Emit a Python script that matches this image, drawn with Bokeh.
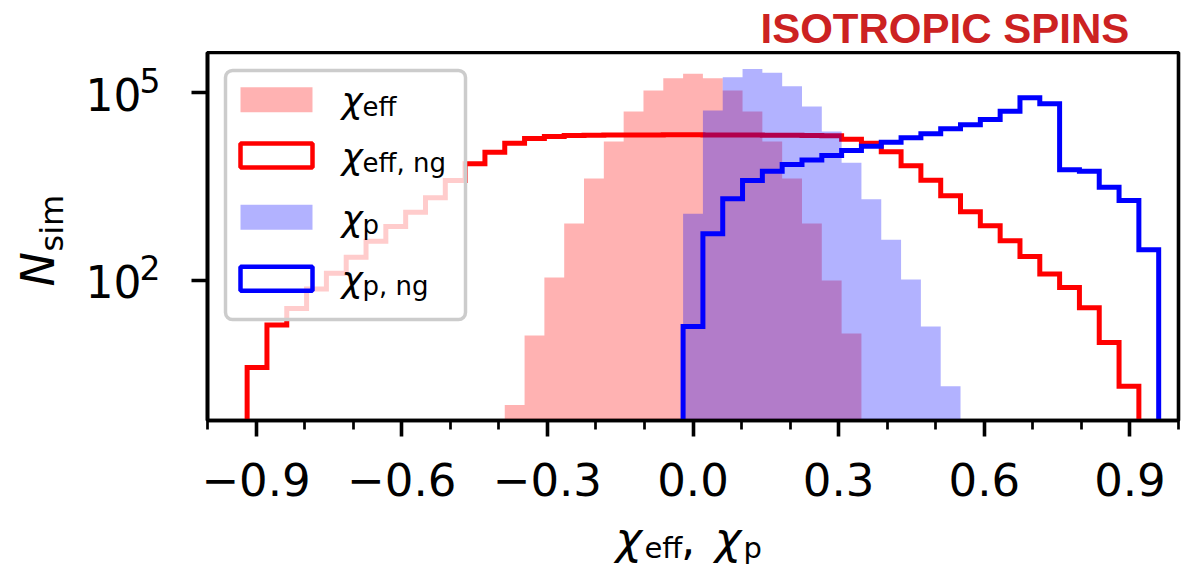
import numpy as np
from bokeh.plotting import figure
from bokeh.layouts import column, row
from bokeh.models import (FixedTicker, CustomJSTickFormatter,
                          Label, BoxAnnotation, Range1d)
from bokeh.embed import file_html
from bokeh.resources import INLINE

# ------------------------------------------------------------------ data
X_MIN, X_MAX, N_BINS = -1.0, 1.0, 49

chi_eff_first_bin = 15
chi_eff_counts = [1, 13, 110, 800, 4200, 16400, 49700, 107600, 169000, 199000,
                  169000, 107600, 49700, 16400, 4200, 800, 98, 14]

chi_eff_ng_first_bin = 2
chi_eff_ng_counts = [4, 19, 35, 72, 128, 232, 418, 718, 1216, 2065, 3908, 7228,
                     11090, 15450, 18370, 19770,
                     20600, 20800, 20900, 21000, 21000, 21100, 21100, 21000,
                     21000, 20900, 20800, 20700, 20500,
                     20280, 17950, 15490, 11240, 6710, 3963, 2223, 1233, 736,
                     424, 238, 125, 76, 36, 10, 2]

chi_p_first_bin = 24
chi_p_counts = [1150, 51500, 175700, 239000, 206600, 126100, 59700, 23800,
                7500, 1960, 440, 102, 18, 2]

chi_p_ng_first_bin = 24
chi_p_ng_counts = [18, 548, 1990, 3910, 5510, 7050, 8320, 9820, 11800, 13830,
                   16030, 18840, 21840, 26250, 30410, 36980, 50230, 82220,
                   65900, 5800, 5510, 3055, 1871, 304]

x_major_ticks = [-0.9, -0.6, -0.3, 0.0, 0.3, 0.6, 0.9]
x_minor_ticks = [-1.0, -0.8, -0.7, -0.5, -0.4, -0.2, -0.1, 0.1, 0.2, 0.4,
                 0.5, 0.7, 0.8, 1.0]
y_major_ticks = [1e2, 1e5]
y_tick_exponents = ["2", "5"]

legend_subscripts = ["eff", "eff, ng", "p", "p, ng"]
title_text = "ISOTROPIC SPINS"

# ------------------------------------------------------------------ layout
W, H = 1186, 568
FL, FR, FT, FB = 207, 1178, 52, 420
Y_MIN, Y_MAX = 0.565, 4.37e5
BOTTOM = 1e-2
FONT = "DejaVu Sans"
SHIFT = 0.33          # compensation of label baseline placement (in em)

TOP_H = 51            # title strip height
LEFT_W = 177          # left text strip width
MAIN_BL = FL - LEFT_W
MAIN_BT = FT - TOP_H
MAIN_BB = 90
MAIN_W = W - LEFT_W
MAIN_H = MAIN_BT + (FB - FT) + MAIN_BB
BOT_H = H - TOP_H - MAIN_H
XLAB_DX = -12         # horizontal nudge of the x-axis title pieces

edges = np.linspace(X_MIN, X_MAX, N_BINS + 1)

p = figure(width=MAIN_W, height=MAIN_H, x_range=Range1d(X_MIN, X_MAX),
           y_range=Range1d(Y_MIN, Y_MAX), y_axis_type="log",
           output_backend="svg", toolbar_location=None,
           min_border_left=MAIN_BL, min_border_right=W - FR,
           min_border_top=MAIN_BT, min_border_bottom=MAIN_BB)
p.background_fill_color = "white"
p.border_fill_color = "white"
p.outline_line_color = "black"
p.outline_line_width = 3.6
p.xgrid.visible = False
p.ygrid.visible = False


def bars(first, counts, color):
    n = len(counts)
    xs = list(edges[first:first + n + 1])
    ys = list(counts) + [counts[-1]]
    p.varea_step(x=xs, y1=[BOTTOM] * (n + 1), y2=ys, step_mode="after",
                 fill_color=color, fill_alpha=0.3)


def step(first, counts, color):
    xs, ys = [edges[first]], [BOTTOM]
    for i, c in enumerate(counts):
        xs += [edges[first + i], edges[first + i + 1]]
        ys += [c, c]
    xs.append(edges[first + len(counts)])
    ys.append(BOTTOM)
    p.line(xs, ys, line_color=color, line_width=5, line_join="miter")


bars(chi_eff_first_bin, chi_eff_counts, "red")
step(chi_eff_ng_first_bin, chi_eff_ng_counts, "red")
bars(chi_p_first_bin, chi_p_counts, "blue")
step(chi_p_ng_first_bin, chi_p_ng_counts, "blue")

# ------------------------------------------------------------------ axes
xa = p.xaxis[0]
xa.ticker = FixedTicker(ticks=x_major_ticks, minor_ticks=x_minor_ticks)
xa.formatter = CustomJSTickFormatter(
    code="return (tick < -1e-9 ? '\u2212' : '') + Math.abs(tick).toFixed(1);")
xa.major_label_text_font = FONT
xa.major_label_text_font_size = "45px"
xa.major_label_text_color = "black"
xa.major_label_standoff = 26
for ax in (p.xaxis[0], p.yaxis[0]):
    ax.axis_line_width = 3.6
    ax.axis_line_color = "black"
    ax.major_tick_out = 16
    ax.major_tick_in = 0
    ax.major_tick_line_width = 3.6
    ax.major_tick_line_color = "black"
xa.minor_tick_out = 9
xa.minor_tick_in = 0
xa.minor_tick_line_width = 2.7
xa.minor_tick_line_color = "black"

ya = p.yaxis[0]
ya.ticker = FixedTicker(ticks=y_major_ticks, minor_ticks=[])
ya.formatter = CustomJSTickFormatter(code="return '';")
ya.major_label_standoff = 0
ya.minor_tick_line_color = None


# ------------------------------------------------------------------ text strips
def strip(w, h, x0, y0):
    f = figure(width=w, height=h, x_range=Range1d(x0, x0 + w),
               y_range=Range1d(y0 + h, y0), x_axis_type=None, y_axis_type=None,
               output_backend="svg", toolbar_location=None, min_border=0)
    f.outline_line_color = None
    f.background_fill_color = "white"
    f.border_fill_color = "white"
    return f


top_fig = strip(W, TOP_H, 0, 0)
left_fig = strip(LEFT_W, H - TOP_H, 0, TOP_H)
bot_fig = strip(MAIN_W, BOT_H, LEFT_W, TOP_H + MAIN_H)


def lab(f, text, px, py, size, italic=False, bold=False, font=FONT,
        color="black", rotated=False):
    style = "bold" if bold else ("italic" if italic else "normal")
    if rotated:
        x, y, ang = px - SHIFT * size, py, np.pi / 2
    else:
        x, y, ang = px, py - SHIFT * size, 0.0
    f.add_layout(Label(x=x, y=y, text=text, text_font=font,
                       text_font_size=f"{size}px", text_font_style=style,
                       text_color=color, text_baseline="alphabetic",
                       text_align="left", angle=ang))


# title
lab(top_fig, title_text, 760, 41.5, 42, bold=True, font="Liberation Sans",
    color="#cc2222")

# y tick labels (10^n)
lmin, lmax = np.log10(Y_MIN), np.log10(Y_MAX)
for v, e in zip(y_major_ticks, y_tick_exponents):
    ty = FB - (np.log10(v) - lmin) / (lmax - lmin) * (FB - FT)
    lab(left_fig, "10", 85, ty + 16, 44)
    lab(left_fig, e, 139, ty - 1.5, 33)

# y axis label (rotated)
lab(left_fig, "N", 53, 286, 46, italic=True, rotated=True)
lab(left_fig, "sim", 62, 251, 32, rotated=True)

# x axis label
lab(bot_fig, "\u03c7", 613 + XLAB_DX, 553, 45, italic=True)
lab(bot_fig, "eff", 643 + XLAB_DX, 557, 29)
lab(bot_fig, ",", 681 + XLAB_DX, 553, 45)
lab(bot_fig, "\u03c7", 716 + XLAB_DX, 553, 45, italic=True)
lab(bot_fig, "p", 746 + XLAB_DX, 557, 29)


# ------------------------------------------------------------------ legend
def sx(px):
    return px - FL


def sy(py):
    return FB - py


def box(l, r, t, b, **kw):
    p.add_layout(BoxAnnotation(left=sx(l), right=sx(r), top=sy(t), bottom=sy(b),
                               left_units="screen", right_units="screen",
                               top_units="screen", bottom_units="screen", **kw))


def plab(text, px, py, size, italic=False):
    p.add_layout(Label(x=sx(px), y=sy(py - SHIFT * size), x_units="screen",
                       y_units="screen", text=text, text_font=FONT,
                       text_font_size=f"{size}px",
                       text_font_style="italic" if italic else "normal",
                       text_color="black", text_baseline="alphabetic",
                       text_align="left"))


box(225, 465, 70, 319, fill_color="white", fill_alpha=0.8,
    line_color="#cccccc", line_alpha=1.0, line_width=3.5, border_radius=7)

centers = [99.2, 155.0, 216.8, 278.2]
styles = [("red", True), ("red", False), ("blue", True), ("blue", False)]
for cy, (col, filled), sub in zip(centers, styles, legend_subscripts):
    if filled:
        box(240, 312, cy - 12.5, cy + 12.5, fill_color=col, fill_alpha=0.3,
            line_color=None)
    else:
        box(240, 312, cy - 12, cy + 12, fill_color=None, line_color=col,
            line_alpha=1.0, line_width=4.5)
    plab("\u03c7", 341, cy + 12.6, 36, italic=True)
    plab(sub, 362, cy + 16, 26)

layout = column(top_fig, row(left_fig, column(p, bot_fig)))
open("out.html", "w").write(file_html(layout, INLINE))
